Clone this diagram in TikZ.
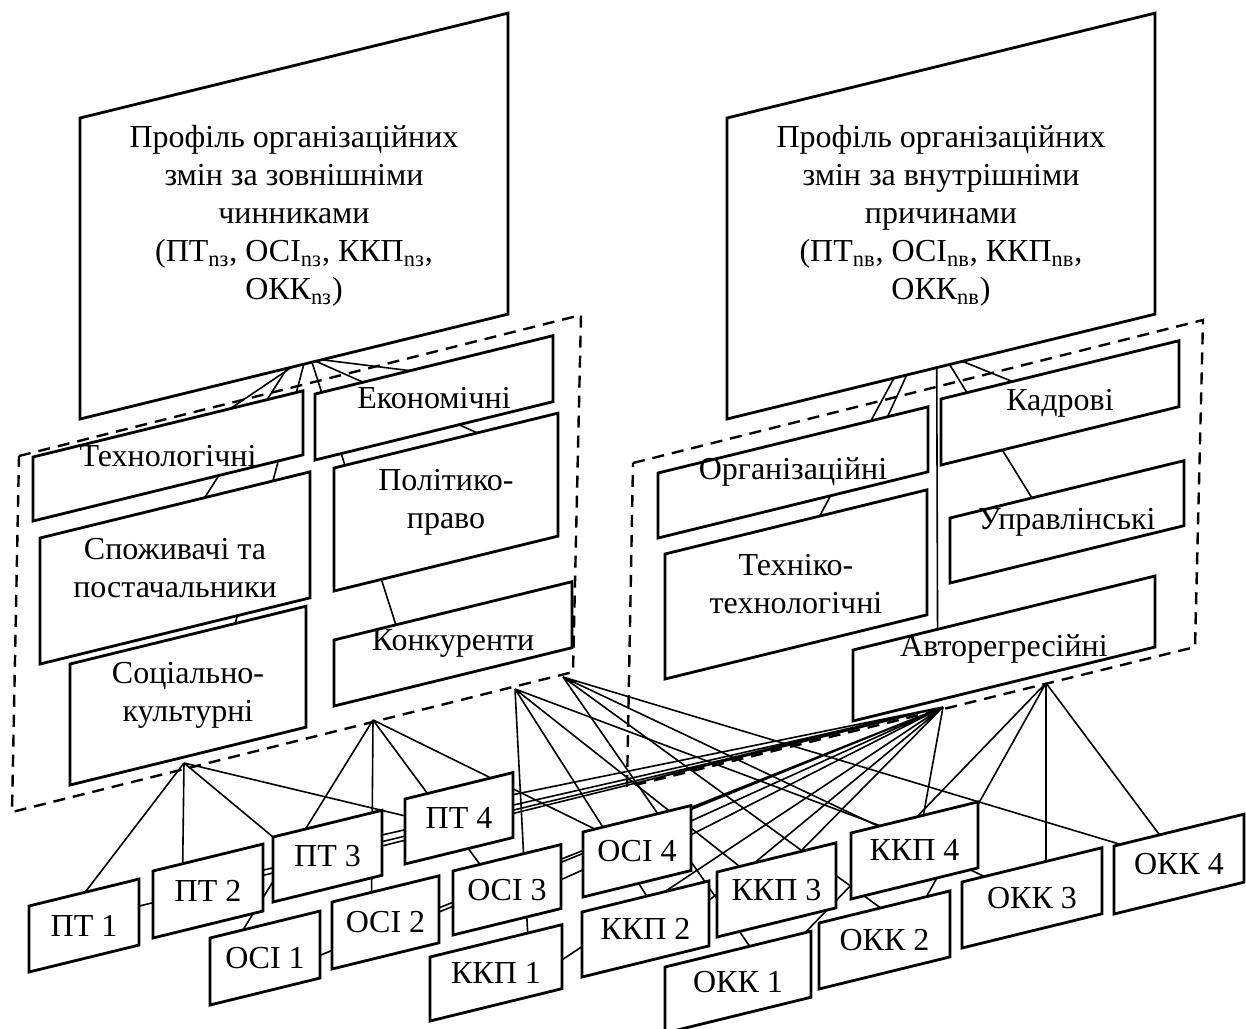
\documentclass[tikz,border=0pt]{standalone}
\usepackage{fontspec}
\setmainfont{Liberation Serif}
\usetikzlibrary{calc,backgrounds}

% slanted box: name, top-left x, top-left y, width, height, text
\newcommand{\slantbox}[6]{%
  \pgfmathsetmacro{\sbx}{#2+#4}%
  \pgfmathsetmacro{\sby}{#3-0.245*#4}%
  \draw[pbox] (#2,#3) coordinate (#1-tl) -- (\sbx,\sby) coordinate (#1-tr)
    -- (\sbx,\sby+#5) coordinate (#1-br) -- (#2,#3+#5) coordinate (#1-bl) -- cycle;
  \node[plabel] (#1) at ($(#1-tl)!0.5!(#1-br)$) {#6};
}

\begin{document}
\begin{tikzpicture}[x=0.5pt,y=-0.5pt]
        \tikzstyle{pbox}=[line width=1.4pt, fill=white]
        \tikzstyle{plabel}=[align=center, inner sep=0pt, font=\fontsize{16}{19}\selectfont]
        \tikzstyle{conn}=[line width=0.8pt]
        \tikzstyle{grp}=[line width=1.2pt, dash pattern=on 6pt off 4pt]
        \useasboundingbox (0,0) rectangle (1246,1028);

        % profiles
        \slantbox{pz}{80}{118}{428}{301}{Профіль організаційних\\змін за зовнішніми\\чинниками\\(ПТ\textsubscript{nз}, ОСІ\textsubscript{nз}, ККП\textsubscript{nз},\\ОКК\textsubscript{nз})}
        \slantbox{pv}{727}{118}{428}{301}{Профіль організаційних\\змін за внутрішніми\\причинами\\(ПТ\textsubscript{nв}, ОСІ\textsubscript{nв}, ККП\textsubscript{nв},\\ОКК\textsubscript{nв})}

        % external factors
        \slantbox{tech}{33}{457}{270}{64}{Технологічні}
        \slantbox{spoz}{40}{538}{270}{126}{Споживачі та\\постачальники}
        \slantbox{soc}{70}{664}{236}{121}{Соціально-\\культурні}
        \slantbox{ekon}{315}{394}{238}{66}{Економічні}
        \slantbox{polit}{334}{468}{224}{123}{Політико-\\право}
        \slantbox{konk}{334}{640}{238}{66}{Конкуренти}

        % internal causes
        \slantbox{org}{658}{473}{270}{65}{Організаційні}
        \slantbox{tekh}{665}{554}{262}{125}{Техніко-\\технологічні}
        \slantbox{kadr}{941}{399}{238}{66}{Кадрові}
        \slantbox{uprav}{950}{518}{234}{65}{Управлінські}
        \slantbox{avto}{853}{650}{302}{71}{Авторегресійні}

        % indicators
        \slantbox{pt1}{29}{906}{110}{66}{ПТ 1}
        \slantbox{pt2}{153}{871}{110}{67}{ПТ 2}
        \slantbox{pt3}{273}{837}{109}{65}{ПТ 3}
        \slantbox{pt4}{405}{799}{108}{65}{ПТ 4}
        \slantbox{osi1}{210}{938}{110}{67}{ОСІ 1}
        \slantbox{osi2}{332}{902}{107}{67}{ОСІ 2}
        \slantbox{osi3}{453}{871}{108}{64}{ОСІ 3}
        \slantbox{osi4}{583}{832}{108}{65}{ОСІ 4}
        \slantbox{kkp1}{430}{957}{132}{64}{ККП 1}
        \slantbox{kkp2}{582}{912}{127}{65}{ККП 2}
        \slantbox{kkp3}{717}{872}{119}{65}{ККП 3}
        \slantbox{kkp4}{851}{833}{127}{66}{ККП 4}
        \slantbox{okk1}{665}{967}{146}{66}{ОКК 1}
        \slantbox{okk2}{819}{923}{131}{66}{ОКК 2}
        \slantbox{okk3}{962}{882}{140}{66}{ОКК 3}
        \slantbox{okk4}{1114}{846}{130}{68}{ОКК 4}

        \coordinate (f1) at (184,763);
        \coordinate (f2) at (373,720);
        \coordinate (f3) at (515,689);
        \coordinate (f4) at (563,677);
        \coordinate (f5) at (943,707);
        \coordinate (f6) at (1046,683);

        \begin{pgfonlayer}{background}
          % groups
          \draw[grp] (19,456) -- (581,315) -- (573,672) -- (12,812) -- cycle;
          \draw[grp] (633,463) -- (1203,320) -- (1195,647) -- (627,787) -- cycle;
          % profile -> factors
          \draw[conn] ($(pz-bl)!.484!(pz-br)$) -- ($(spoz-tl)!.61!(spoz-tr)$);
          \draw[conn] ($(pz-bl)!.523!(pz-br)$) -- ($(soc-tl)!.70!(soc-tr)$);
          \draw[conn] ($(pz-bl)!.495!(pz-br)$) -- ($(tech-tl)!.73!(tech-tr)$);
          \draw[conn] ($(pz-bl)!.542!(pz-br)$) -- ($(konk-tl)!.26!(konk-tr)$);
          \draw[conn] ($(pz-bl)!.551!(pz-br)$) -- ($(polit-tl)!.64!(polit-tr)$);
          \draw[conn] ($(pz-bl)!.565!(pz-br)$) -- ($(ekon-tl)!.40!(ekon-tr)$);
          \draw[conn] ($(pv-bl)!.39!(pv-br)$) -- ($(tekh-tl)!.59!(tekh-tr)$);
          \draw[conn] ($(pv-bl)!.42!(pv-br)$) -- ($(org-tl)!.85!(org-tr)$);
          \draw[conn] ($(pv-bl)!.49!(pv-br)$) -- ($(avto-tl)!.28!(avto-tr)$);
          \draw[conn] ($(pv-bl)!.52!(pv-br)$) -- ($(uprav-tl)!.35!(uprav-tr)$);
          \draw[conn] ($(pv-bl)!.55!(pv-br)$) -- ($(kadr-tl)!.30!(kadr-tr)$);
          % groups -> indicators
          \draw[conn] (f1) -- ($(pt1-tl)!.51!(pt1-tr)$) (f1) -- ($(pt2-tl)!.27!(pt2-tr)$)
            (f1) -- (pt3-tl) (f1) -- ($(pt4-tl)!.26!(pt4-bl)$);
          \draw[conn] (f2) -- ($(osi1-tl)!.30!(osi1-tr)$) (f2) -- ($(osi2-tl)!.37!(osi2-tr)$)
            (f2) -- ($(osi3-tl)!.25!(osi3-tr)$) (f2) -- ($(osi4-tl)!.11!(osi4-tr)$);
          \draw[conn] (f3) -- ($(kkp1-tl)!.74!(kkp1-tr)$) (f3) -- ($(kkp2-tl)!.51!(kkp2-tr)$)
            (f3) -- ($(kkp3-tl)!.19!(kkp3-tr)$) (f3) -- ($(kkp4-tl)!.23!(kkp4-tr)$);
          \draw[conn] (f4) -- ($(okk1-tl)!.58!(okk1-tr)$) (f4) -- ($(okk2-tl)!.47!(okk2-tr)$)
            (f4) -- ($(okk3-tl)!.16!(okk3-tr)$) (f4) -- ($(okk4-tl)!.05!(okk4-tr)$);
          \draw[conn] (f5) -- ($(pt1-tr)!.41!(pt1-br)$) (f5) -- ($(pt2-tr)!.39!(pt2-br)$)
            (f5) -- ($(pt3-tr)!.38!(pt3-br)$) (f5) -- ($(pt4-tr)!.34!(pt4-br)$)
            (f5) -- ($(osi1-tr)!.66!(osi1-br)$) (f5) -- ($(osi2-tr)!.54!(osi2-br)$)
            (f5) -- ($(osi3-tr)!.55!(osi3-br)$) (f5) -- ($(osi4-tr)!.45!(osi4-br)$)
            (f5) -- ($(kkp1-tr)!.55!(kkp1-br)$) (f5) -- ($(kkp2-tr)!.30!(kkp2-br)$)
            (f5) -- ($(kkp3-tl)!.70!(kkp3-tr)$) (f5) -- ($(kkp4-tl)!.57!(kkp4-tr)$);
          \draw[conn] (f6) -- ($(okk1-tl)!.96!(okk1-tr)$) (f6) -- ($(okk2-tl)!.82!(okk2-tr)$)
            (f6) -- ($(okk3-tl)!.60!(okk3-tr)$) (f6) -- ($(okk4-tl)!.35!(okk4-tr)$);
        \end{pgfonlayer}
\end{tikzpicture}
\end{document}
